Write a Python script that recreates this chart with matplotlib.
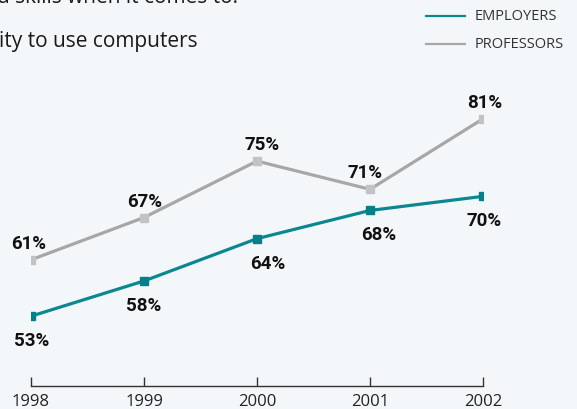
import matplotlib
matplotlib.use("Agg")
import matplotlib.pyplot as plt
from matplotlib.lines import Line2D

years = [1998, 1999, 2000, 2001, 2002]
employers = [53, 58, 64, 68, 70]
professors = [61, 67, 75, 71, 81]
series_names = ["EMPLOYERS", "PROFESSORS"]
header_lines = ["d skills when it comes to:", "ity to use computers"]

# small sideways nudges for the value labels (pixels)
emp_nudge = [1, 0, 11, 9, 1]
prof_nudge = [-2, 1, 5, -5, 2]

TEAL = "#0b8792"
TEAL_MARK = "#03808b"
GREY = "#a7a7a7"
GREY_MARK = "#c3c3c3"
BG = "#f4f7f9"
FONT = "Open Sans"
BOLD_FONT = "Roboto"

W, H = 577, 410
fig = plt.figure(figsize=(W / 100, H / 100), dpi=100, facecolor=BG)
ax = fig.add_axes([31 / W, 1 - 387 / H, 452 / W, (387 - 91.6) / H])
ax.set_facecolor(BG)

ax.plot(years, professors, color=GREY, lw=2.3, marker="s", ms=5.8,
        mfc=GREY_MARK, mec=GREY_MARK, zorder=3)
ax.plot(years, employers, color=TEAL, lw=2.3, marker="s", ms=5.8,
        mfc=TEAL_MARK, mec=TEAL_MARK, zorder=3)

for x, v, dx in zip(years, professors, prof_nudge):
    ax.annotate("%d%%" % v, (x, v), xytext=(dx, 17), textcoords="offset pixels",
                ha="center", va="center", fontsize=13.5, fontweight="bold",
                family=BOLD_FONT, color="#111111")
for x, v, dx in zip(years, employers, emp_nudge):
    ax.annotate("%d%%" % v, (x, v), xytext=(dx, -24), textcoords="offset pixels",
                ha="center", va="center", fontsize=13.5, fontweight="bold",
                family=BOLD_FONT, color="#111111")

ax.set_xlim(1998, 2002)
ax.set_ylim(43.1, 85)
ax.set_xticks(years)
ax.set_xticklabels([str(y) for y in years], family=FONT, fontsize=12, color="#222222")
ax.set_yticks([])
ax.tick_params(axis="x", direction="in", length=6.5, width=1, color="#333333", pad=5)
for side in ["top", "right", "left"]:
    ax.spines[side].set_visible(False)
ax.spines["bottom"].set_color("#333333")
ax.spines["bottom"].set_linewidth(1)

# header text, cut off by the frame like in the source
fig.text(-3 / W, 1 - 3 / H, header_lines[0], family=FONT, fontsize=15,
         color="#1a1a1a", va="baseline", ha="left")
fig.text(-1 / W, 1 - 47 / H, header_lines[1], family=FONT, fontsize=15,
         color="#1a1a1a", va="baseline", ha="left")

# legend
for name, col, ypx in zip(series_names, [TEAL, GREY], [17, 45]):
    fig.add_artist(Line2D([426 / W, 465 / W], [1 - ypx / H, 1 - ypx / H],
                          color=col, lw=1.6))
    fig.text(475 / W, 1 - ypx / H, name, family=FONT,
             fontsize=10.5, color="#333333", va="center", ha="left")

fig.savefig("out.png", dpi=100, facecolor=BG)
